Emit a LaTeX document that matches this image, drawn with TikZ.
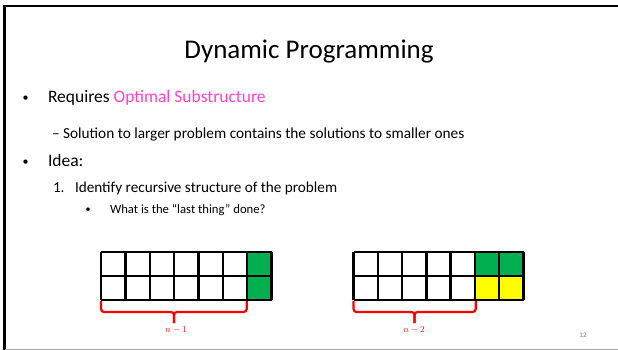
\documentclass[tikz,border=0pt]{standalone}
\usepackage{fontspec}
\setmainfont{Carlito}
\usetikzlibrary{calc}
\definecolor{slidepink}{RGB}{255,64,205}
\definecolor{cellgreen}{RGB}{0,176,80}
\definecolor{cellyellow}{RGB}{255,255,0}
\definecolor{bracered}{RGB}{255,0,0}
\tikzset{
  txt/.style={anchor=base west, inner sep=0pt, outer sep=0pt},
  dot/.style={anchor=base, inner sep=0pt, outer sep=0pt},
  gridline/.style={draw=black, line width=2.4pt},
  bracket/.style={draw=bracered, line width=2.2pt, rounded corners=3pt},
  lbl/.style={text=bracered, inner sep=0pt, font=\fontsize{9.5}{11}\selectfont},
}
\begin{document}
\begin{tikzpicture}[x=1pt,y=-1pt]
\useasboundingbox (0,0) rectangle (618,350);
% slide frame
\draw[line width=2.5pt] (4.5,350) -- (4.5,6) -- (618,6);
\draw[gray!70, line width=1pt] (4.5,349) -- (618,349);

% title
\node[anchor=base, inner sep=0pt] (title) at (309,58.3) {\fontsize{27}{31}\selectfont Dynamic Programming};

% bullets
\node[dot] (b1) at (25.5,102) {\fontsize{12}{14}\selectfont •};
\node[txt] (t1) at (48,103) {\fontsize{17.5}{20}\selectfont Requires \textcolor{slidepink}{Optimal Substructure}};
\node[txt] (t2) at (52,139) {\fontsize{15.3}{18}\selectfont – Solution to larger problem contains the solutions to smaller ones};
\node[dot] (b2) at (25.5,165) {\fontsize{12}{14}\selectfont •};
\node[txt] (t3) at (48,166) {\fontsize{17.5}{20}\selectfont Idea:};
\node[txt] (t4) at (53,192) {\fontsize{15.2}{18}\selectfont 1.};
\node[txt] (t5) at (75,192) {\fontsize{15.2}{18}\selectfont Identify recursive structure of the problem};
\node[dot] (b3) at (88,212.5) {\fontsize{10}{12}\selectfont •};
\node[txt] (t6) at (110,213) {\fontsize{12.7}{15}\selectfont What is the “last thing” done?};

% left array: 7 x 2, last column green
\fill[cellgreen] (247,252) rectangle (271.5,300);
\foreach \i in {0,...,7} \draw[gridline] ({101+\i*24.36},252) -- ({101+\i*24.36},300);
\foreach \j in {252,276,300} \draw[gridline] (101,\j) -- (271.5,\j);

% right array: last two columns green on top, yellow below
\fill[cellgreen] (475.7,252) rectangle (523.5,276);
\fill[cellyellow] (475.7,276) rectangle (523.5,300);
\foreach \i in {0,...,7} \draw[gridline] ({353.5+\i*24.29},252) -- ({353.5+\i*24.29},300);
\foreach \j in {252,276,300} \draw[gridline] (353.5,\j) -- (523.5,\j);

% brackets under the arrays
\coordinate (l1) at (101,301);
\coordinate (r1) at (246.7,301);
\draw[bracket] (l1) -- ++(0,11) -| (174,323);
\draw[bracket] (r1) -- ++(0,11) -| (174,323);
\node[lbl] (n1) at (176,330) {$n-1$};

\coordinate (l2) at (353.5,301);
\coordinate (r2) at (475.7,301);
\draw[bracket] (l2) -- ++(0,11) -| (414.5,323);
\draw[bracket] (r2) -- ++(0,11) -| (414.5,323);
\node[lbl] (n2) at (414,330) {$n-2$};

% page number
\node[inner sep=0pt, text=gray, font=\fontsize{7}{8}\selectfont] (pg) at (583,335) {12};
\end{tikzpicture}
\end{document}
